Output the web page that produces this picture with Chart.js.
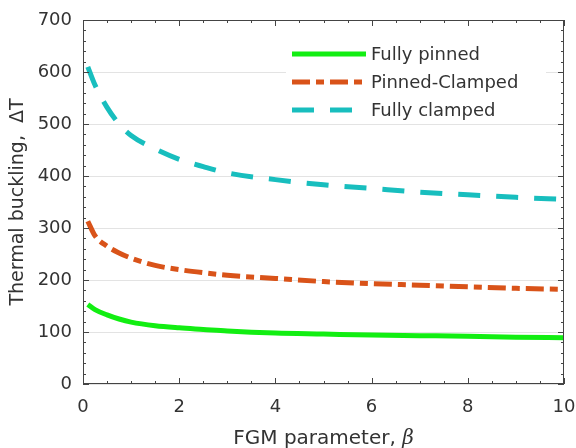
<!DOCTYPE html>
<html>
<head>
<meta charset="utf-8">
<script src="https://cdn.jsdelivr.net/npm/chart.js@4"></script>
<style>
  html, body { margin: 0; padding: 0; background: #fff; }
  #wrap { width: 576px; height: 448px; }
</style>
</head>
<body>
<div id="wrap"><canvas id="grafik" width="576" height="448"></canvas></div>
<script>
const BETA = [0.1, 0.25, 0.5, 0.75, 1, 1.5, 2, 2.5, 3, 4, 5, 6, 7, 8, 9, 10];
const FULLY_PINNED = [153, 143, 133, 125, 119, 112, 108, 105, 102, 98, 96, 94, 93, 92, 90, 89];
const PINNED_CLAMPED = [313, 285, 265, 252, 242, 228, 220, 214, 209, 203, 197, 193, 190, 187, 184, 182];
const FULLY_CLAMPED = [610, 575, 532, 500, 478, 452, 432, 418, 406, 393, 383, 376, 369, 364, 359, 355];
const SERIES_NAMES = ['Fully pinned', 'Pinned-Clamped', 'Fully clamped'];
const X_TICKS = [0, 2, 4, 6, 8, 10];
const Y_TICKS = [0, 100, 200, 300, 400, 500, 600, 700];

const FONT = 'DejaVu Sans';
const TEXT = '#333333';
const AXIS = '#444444';
const COLORS = ['#12ee12', '#D95319', '#18BEBE'];
const DASHES = [[], [18, 6, 8, 6], [22, 16]];

function pts(ys) {
    return BETA.map((b, i) => ({ x: b, y: ys[i] }));
}

// box, inward ticks, legend and axis titles
const decor = {
    id: 'decor',
    afterDraw(chart) {
        const ctx = chart.ctx;
        const a = chart.chartArea;
        const xs = chart.scales.x, ys = chart.scales.y;
        ctx.save();
        ctx.strokeStyle = AXIS;
        ctx.lineWidth = 1;
        ctx.setLineDash([]);
        ctx.strokeRect(a.left + 0.5, a.top + 0.5, a.right - a.left - 1, a.bottom - a.top - 1);

        ctx.beginPath();
        for (let v = 0; v <= 10.001; v += 0.5) {
            const px = Math.round(xs.getPixelForValue(v)) + 0.5;
            const len = (Math.abs(v % 2) < 1e-6) ? 6 : 3;
            ctx.moveTo(px, a.bottom); ctx.lineTo(px, a.bottom - len);
            ctx.moveTo(px, a.top); ctx.lineTo(px, a.top + len);
        }
        for (let v = 0; v <= 700; v += 20) {
            const py = Math.round(ys.getPixelForValue(v)) + 0.5;
            const len = (v % 100 === 0) ? 6 : 3;
            ctx.moveTo(a.left, py); ctx.lineTo(a.left + len, py);
            ctx.moveTo(a.right, py); ctx.lineTo(a.right - len, py);
        }
        ctx.stroke();

        // legend
        ctx.fillStyle = '#ffffff';
        ctx.fillRect(286, 38, 260, 84);
        const rows = [54, 82, 110];
        ctx.font = '18px "' + FONT + '"';
        ctx.textBaseline = 'middle';
        ctx.textAlign = 'left';
        for (let i = 0; i < 3; i++) {
            ctx.strokeStyle = COLORS[i];
            ctx.lineWidth = 5;
            ctx.setLineDash(DASHES[i]);
            ctx.beginPath();
            ctx.moveTo(292, rows[i]);
            ctx.lineTo(366, rows[i]);
            ctx.stroke();
            ctx.fillStyle = TEXT;
            ctx.fillText(SERIES_NAMES[i], 371, rows[i] + 1);
        }
        ctx.setLineDash([]);

        // x title with italic beta
        const t1 = 'FGM parameter, ';
        const t2 = '\u03B2';
        ctx.font = '20px "' + FONT + '"';
        const w1 = ctx.measureText(t1).width;
        ctx.font = 'italic 20px "DejaVu Serif"';
        const w2 = ctx.measureText(t2).width;
        const cx = (a.left + a.right) / 2;
        let sx = cx - (w1 + w2) / 2;
        ctx.fillStyle = TEXT;
        ctx.textBaseline = 'alphabetic';
        ctx.font = '20px "' + FONT + '"';
        ctx.fillText(t1, sx, 444);
        ctx.font = 'italic 20px "DejaVu Serif"';
        ctx.fillText(t2, sx + w1, 444);

        // y title
        ctx.translate(18, (a.top + a.bottom) / 2);
        ctx.rotate(-Math.PI / 2);
        ctx.font = '19px "' + FONT + '"';
        ctx.textAlign = 'center';
        ctx.textBaseline = 'middle';
        ctx.fillText('Thermal buckling,  \u0394T', 0, 0);
        ctx.restore();
    }
};

const datasets = [FULLY_PINNED, PINNED_CLAMPED, FULLY_CLAMPED].map((ys, i) => ({
    label: SERIES_NAMES[i],
    data: pts(ys),
    borderColor: COLORS[i],
    backgroundColor: COLORS[i],
    borderWidth: 5,
    borderDash: DASHES[i],
    pointRadius: 0,
    fill: false,
    cubicInterpolationMode: 'monotone'
}));

new Chart(document.getElementById('grafik'), {
    type: 'line',
    data: { datasets: datasets },
    options: {
        responsive: false,
        animation: false,
        layout: { padding: { top: 20, right: 12, left: 0, bottom: 0 } },
        plugins: {
            legend: { display: false },
            tooltip: { enabled: false }
        },
        scales: {
            x: {
                type: 'linear',
                min: 0,
                max: 10,
                afterFit: (s) => {
                    s.height = 64;
                    s.paddingLeft = 0;
                    s.paddingRight = 0;
                },
                afterBuildTicks: (s) => { s.ticks = X_TICKS.map(v => ({ value: v })); },
                ticks: {
                    font: { family: FONT, size: 18 },
                    color: TEXT,
                    padding: 13,
                    maxRotation: 0
                },
                grid: { display: false, drawTicks: false },
                border: { display: false }
            },
            y: {
                min: 0,
                max: 700,
                afterFit: (s) => {
                    s.width = 83;
                    s.paddingTop = 0;
                    s.paddingBottom = 0;
                },
                afterBuildTicks: (s) => { s.ticks = Y_TICKS.map(v => ({ value: v })); },
                ticks: {
                    font: { family: FONT, size: 18 },
                    color: TEXT,
                    padding: 11
                },
                grid: { color: '#e3e3e3', lineWidth: 1, drawTicks: false },
                border: { display: false }
            }
        }
    },
    plugins: [decor]
});
</script>
</body>
</html>
